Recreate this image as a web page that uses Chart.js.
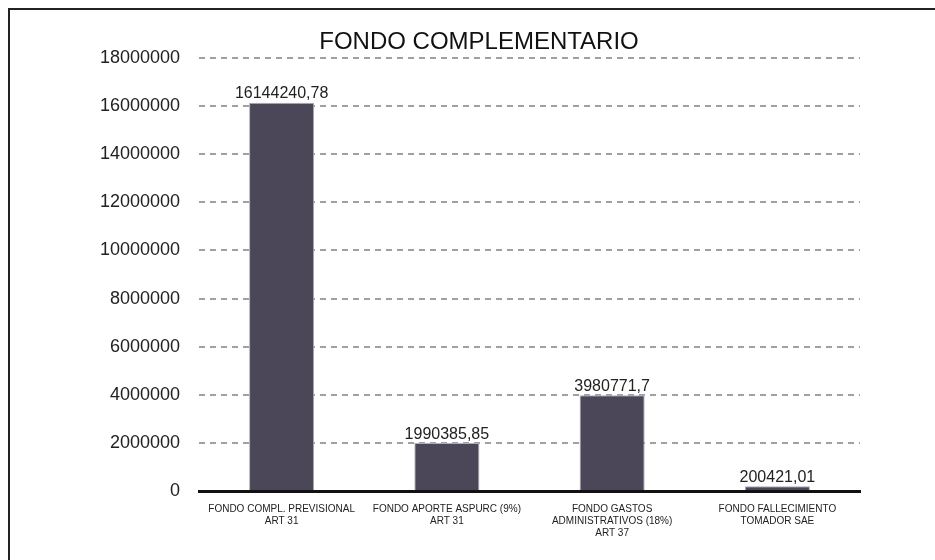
<!DOCTYPE html>
<html>
<head>
<meta charset="utf-8">
<script src="https://cdn.jsdelivr.net/npm/chart.js@4.4.0/dist/chart.umd.min.js"></script>
<style>
html,body{margin:0;padding:0;background:#fff;overflow:hidden;width:935px;height:560px;}
#frame{position:absolute;left:8px;top:8px;width:1000px;height:600px;border-left:2px solid #222;border-top:2px solid #222;box-sizing:border-box;}
#wrap{position:absolute;left:0;top:0;width:966px;height:560px;}
</style>
</head>
<body>
<div id="frame"></div>
<div id="wrap"><canvas id="c" width="966" height="560"></canvas></div>
<script>
const chartTitle = "FONDO COMPLEMENTARIO";
const categories = [
  ["FONDO COMPL. PREVISIONAL", "ART 31"],
  ["FONDO APORTE ASPURC (9%)", "ART 31"],
  ["FONDO GASTOS", "ADMINISTRATIVOS (18%)", "ART 37"],
  ["FONDO FALLECIMIENTO", "TOMADOR SAE"]
];
const values = [16144240.78, 1990385.85, 3980771.7, 200421.01];
const valueLabels = ["16144240,78", "1990385,85", "3980771,7", "200421,01"];
const yMin = 0, yMax = 18000000, yStep = 2000000;

const valueLabelPlugin = {
  id: 'valueLabels',
  afterDatasetsDraw(chart) {
    const ctx = chart.ctx;
    const meta = chart.getDatasetMeta(0);
    ctx.save();
    ctx.font = '16px "Liberation Sans", Arial, sans-serif';
    ctx.fillStyle = '#222';
    ctx.textAlign = 'center';
    ctx.textBaseline = 'bottom';
    meta.data.forEach((el, i) => {
      ctx.fillText(valueLabels[i], el.x, el.y - 1);
    });
    ctx.restore();
  }
};

const titlePlugin = {
  id: 'customTitle',
  afterDraw(chart) {
    const ctx = chart.ctx;
    ctx.save();
    ctx.font = '24px "Liberation Sans", Arial, sans-serif';
    ctx.fillStyle = '#111';
    ctx.textAlign = 'center';
    ctx.textBaseline = 'alphabetic';
    ctx.fillText(chartTitle, 479, 49);
    ctx.restore();
  }
};

new Chart(document.getElementById('c'), {
  type: 'bar',
  data: {
    labels: categories,
    datasets: [{
      data: values,
      backgroundColor: '#4b4658',
      borderColor: '#b0aeb6',
      borderWidth: 1,
      barPercentage: 0.394,
      categoryPercentage: 1.0
    }]
  },
  options: {
    responsive: false,
    animation: false,
    layout: { padding: { left: 0, right: 106, top: 58, bottom: 0 } },
    plugins: {
      legend: { display: false },
      tooltip: { enabled: false },
      title: { display: false }
    },
    scales: {
      x: {
        grid: { display: false, drawTicks: false },
        border: { display: true, color: '#111', width: 3 },
        ticks: {
          color: '#222',
          font: { family: '"Liberation Sans", Arial, sans-serif', size: 10 },
          padding: 12,
          maxRotation: 0,
          autoSkip: false
        },
        afterFit(s) { s.height = 69; }
      },
      y: {
        min: yMin,
        max: yMax,
        ticks: {
          stepSize: yStep,
          color: '#222',
          padding: 19,
          font: { family: '"Liberation Sans", Arial, sans-serif', size: 18 },
          callback: v => String(v)
        },
        grid: {
          color: ctx => ctx.tick && ctx.tick.value === 0 ? 'rgba(0,0,0,0)' : '#a0a0a0',
          lineWidth: 2,
          drawTicks: false
        },
        border: { display: false, dash: [6, 5] },
        afterFit(s) { s.width = 199; }
      }
    }
  },
  plugins: [valueLabelPlugin, titlePlugin]
});
</script>
</body>
</html>
